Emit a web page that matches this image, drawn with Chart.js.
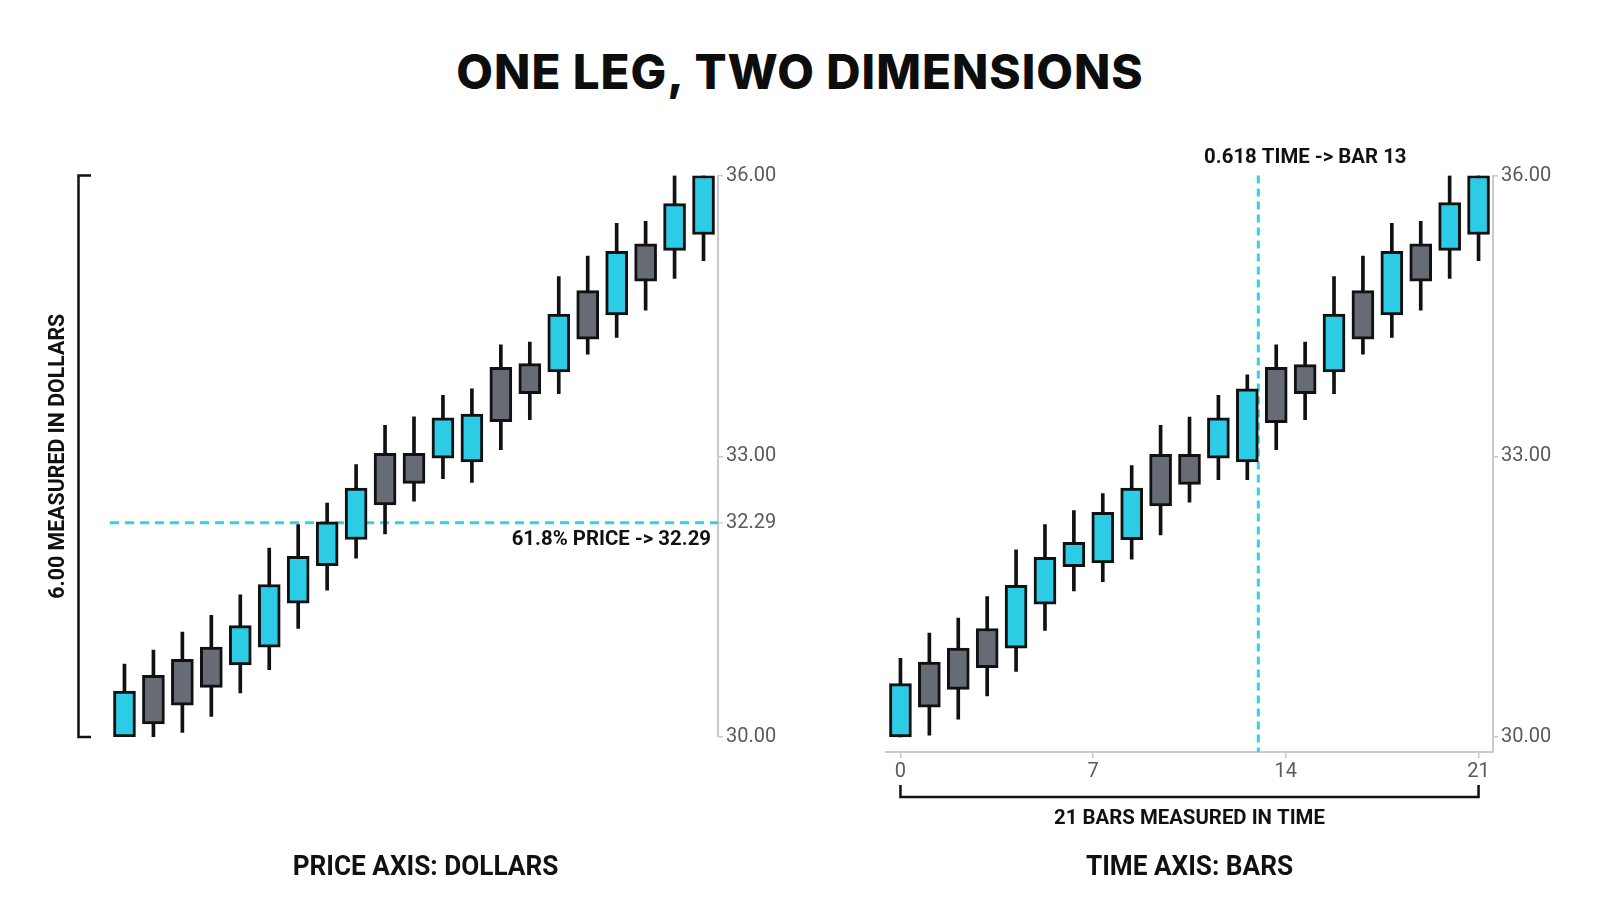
<!DOCTYPE html>
<html>
<head>
<meta charset="utf-8">
<title>One leg, two dimensions</title>
<script src="https://cdn.jsdelivr.net/npm/chart.js@4.4.0/dist/chart.umd.min.js"></script>
<style>
  body { margin: 0; background: #fff; width: 1600px; height: 914px; position: relative; overflow: hidden; }
  #title { position: absolute; left: 0; top: 48px; width: 1600px; margin: 0; text-align: center;
           font: 800 47.5px/47px Inter, "Open Sans", sans-serif; letter-spacing: 1px; color: #0d0d0d; }
  canvas { position: absolute; top: 0; }
  #price { left: 0; }
  #time { left: 800px; }
</style>
</head>
<body>
<div id="title">ONE LEG, TWO DIMENSIONS</div>
<canvas id="price" width="800" height="914"></canvas>
<canvas id="time" width="800" height="914"></canvas>
<script>
// tick labels
const priceTicks = [30, 32.29, 33, 36];
const timeTicks = [0, 7, 14, 21];
const priceLevel = 32.29;   // 61.8% price
const timeLevel = 13;       // 0.618 time

// left panel candles
const leftOpen  = [30.00, 30.66, 30.83, 30.96, 30.77, 30.96, 31.43, 31.83, 32.11, 33.03, 33.03, 32.98, 32.94, 33.95, 33.99, 33.90, 34.77, 34.51, 35.27, 35.20, 35.37];
const leftHigh  = [30.78, 30.93, 31.12, 31.30, 31.52, 32.02, 32.27, 32.50, 32.91, 33.33, 33.42, 33.65, 33.72, 34.19, 34.22, 34.92, 35.14, 35.49, 35.51, 36.00, 36.00];
const leftLow   = [30.00, 30.00, 30.05, 30.22, 30.47, 30.72, 31.16, 31.57, 31.91, 32.17, 32.52, 32.76, 32.72, 33.07, 33.39, 33.67, 34.09, 34.27, 34.56, 34.90, 35.09];
const leftClose = [30.49, 30.14, 30.34, 30.53, 31.19, 31.63, 31.93, 32.30, 32.66, 32.48, 32.71, 33.41, 33.45, 33.37, 33.67, 34.52, 34.25, 35.19, 34.87, 35.70, 36.00];

// right panel candles
const rightOpen  = [30.00, 30.80, 30.95, 31.16, 30.95, 31.42, 31.82, 31.86, 32.11, 33.02, 33.02, 32.98, 32.94, 33.95, 33.98, 33.90, 34.77, 34.51, 35.27, 35.20, 35.37];
const rightHigh  = [30.84, 31.11, 31.27, 31.50, 32.00, 32.27, 32.42, 32.60, 32.90, 33.33, 33.42, 33.65, 33.87, 34.19, 34.22, 34.92, 35.14, 35.49, 35.51, 36.00, 36.00];
const rightLow   = [30.00, 30.02, 30.19, 30.44, 30.70, 31.14, 31.56, 31.66, 31.90, 32.16, 32.51, 32.75, 32.75, 33.07, 33.39, 33.67, 34.09, 34.27, 34.56, 34.90, 35.09];
const rightClose = [30.57, 30.32, 30.51, 30.74, 31.62, 31.92, 32.08, 32.40, 32.66, 32.47, 32.70, 33.41, 33.72, 33.36, 33.67, 34.52, 34.25, 35.19, 34.87, 35.71, 36.00];

const CYAN = '#2ccbe6';
const GREY = '#676b75';
const INK = '#111111';
const AXIS = '#cacaca';
const TICK = '#5a5a5a';
const DASH = '#30d3e4';
const SQUEEZE = 0.97;

function candles(open, high, low, close) {
  return {
    labels: open.map((_, i) => i),
    datasets: [
      {
        label: 'body',
        data: open.map((o, i) => [o, close[i]]),
        backgroundColor: open.map((o, i) => close[i] >= o ? CYAN : GREY),
        borderColor: INK,
        borderWidth: 3,
        borderSkipped: false,
        barThickness: 22,
        grouped: false,
        order: 0
      },
      {
        label: 'wick',
        data: low.map((l, i) => [l, high[i]]),
        backgroundColor: INK,
        borderWidth: 0,
        barThickness: 3,
        grouped: false,
        order: 1
      }
    ]
  };
}

function label(ctx, text, x, y, size, align, angle) {
  ctx.save();
  ctx.translate(x, y);
  if (angle) ctx.rotate(angle);
  ctx.scale(SQUEEZE, 1);
  ctx.font = '700 ' + size + 'px Roboto';
  ctx.fillStyle = INK;
  ctx.textAlign = align || 'center';
  ctx.textBaseline = 'alphabetic';
  ctx.fillText(text, 0, 0);
  ctx.restore();
}

function priceAxis(width, min, ticks) {
  return {
    position: 'right',
    min: min,
    max: 36,
    afterBuildTicks: s => { s.ticks = ticks.map(v => ({ value: v })); },
    afterFit: s => { s.width = width; },
    border: { display: true, color: AXIS, width: 2 },
    grid: { drawOnChartArea: false, drawTicks: true, tickLength: 5, color: AXIS, lineWidth: 1.5 },
    ticks: { color: TICK, padding: 3, font: { family: 'Roboto', size: 20 }, callback: v => Number(v).toFixed(2) }
  };
}

const common = {
  responsive: false,
  animation: false,
  plugins: { legend: { display: false }, tooltip: { enabled: false } }
};

// left: price dimension
new Chart(document.getElementById('price'), {
  type: 'bar',
  data: candles(leftOpen, leftHigh, leftLow, leftClose),
  options: Object.assign({}, common, {
    layout: { padding: { left: 110, right: 0, top: 175.5, bottom: 177 } },
    scales: {
      x: { display: false, offset: true },
      y: priceAxis(82, 30, priceTicks)
    }
  }),
  plugins: [{
    id: 'priceDecor',
    beforeDatasetsDraw(chart) {
      const { ctx, chartArea: a, scales: { y } } = chart;
      const py = y.getPixelForValue(priceLevel);
      ctx.save();
      ctx.strokeStyle = DASH;
      ctx.lineWidth = 3;
      ctx.setLineDash([9, 6]);
      ctx.beginPath();
      ctx.moveTo(a.left, py);
      ctx.lineTo(a.right, py);
      ctx.stroke();
      ctx.restore();
    },
    afterDraw(chart) {
      const { ctx, chartArea: a, scales: { y } } = chart;
      const top = y.getPixelForValue(36), bot = y.getPixelForValue(30);
      const bx = 78.5;
      ctx.save();
      ctx.strokeStyle = INK;
      ctx.lineWidth = 2.5;
      ctx.beginPath();
      ctx.moveTo(bx + 12.5, top);
      ctx.lineTo(bx, top);
      ctx.lineTo(bx, bot);
      ctx.lineTo(bx + 12.5, bot);
      ctx.stroke();
      ctx.restore();
      label(ctx, '6.00 MEASURED IN DOLLARS', 63.5, (top + bot) / 2, 22, 'center', -Math.PI / 2);
      label(ctx, '61.8% PRICE -> ' + priceLevel.toFixed(2), a.right - 7, y.getPixelForValue(priceLevel) + 22, 21, 'right');
      label(ctx, 'PRICE AXIS: DOLLARS', 425.5, 875, 27, 'center');
    }
  }]
});

// right: time dimension
const nBars = rightOpen.length;
const lastTick = timeTicks[timeTicks.length - 1];
const edge = 0.5 * lastTick / (nBars - 1);

new Chart(document.getElementById('time'), {
  type: 'bar',
  data: candles(rightOpen, rightHigh, rightLow, rightClose),
  options: Object.assign({}, common, {
    layout: { padding: { left: 86, right: 0, top: 175.5, bottom: 122 } },
    scales: {
      x: { display: false, offset: true },
      xt: {
        type: 'linear',
        axis: 'x',
        position: 'bottom',
        offset: false,
        min: -edge,
        max: lastTick + edge,
        afterBuildTicks: s => { s.ticks = timeTicks.map(v => ({ value: v })); },
        afterFit: s => { s.height = 40; },
        border: { display: true, color: AXIS, width: 2 },
        grid: { offset: false, drawOnChartArea: false, drawTicks: true, tickLength: 6, color: AXIS, lineWidth: 1.5 },
        ticks: { color: TICK, padding: 2, font: { family: 'Roboto', size: 20 }, maxRotation: 0, autoSkip: false }
      },
      y: priceAxis(107, 29.84, [30, 33, 36])
    }
  }),
  plugins: [{
    id: 'timeDecor',
    beforeDatasetsDraw(chart) {
      const { ctx, chartArea: a, scales: { xt } } = chart;
      const px = xt.getPixelForValue(timeLevel);
      ctx.save();
      ctx.strokeStyle = DASH;
      ctx.lineWidth = 3;
      ctx.setLineDash([8, 5]);
      ctx.beginPath();
      ctx.moveTo(px, a.top);
      ctx.lineTo(px, a.bottom);
      ctx.stroke();
      ctx.restore();
    },
    afterDraw(chart) {
      const { ctx, scales: { xt } } = chart;
      const x0 = xt.getPixelForValue(timeTicks[0]);
      const x1 = xt.getPixelForValue(lastTick);
      const by = 797;
      ctx.save();
      ctx.strokeStyle = INK;
      ctx.lineWidth = 2.5;
      ctx.beginPath();
      ctx.moveTo(x0, by - 12);
      ctx.lineTo(x0, by);
      ctx.lineTo(x1, by);
      ctx.lineTo(x1, by - 12);
      ctx.stroke();
      ctx.restore();
      label(ctx, lastTick + ' BARS MEASURED IN TIME', (x0 + x1) / 2, 823.5, 21, 'center');
      label(ctx, '0.618 TIME -> BAR ' + timeLevel, xt.getPixelForValue(timeLevel) + 47, 162.5, 21, 'center');
      label(ctx, 'TIME AXIS: BARS', 389.5, 875, 27, 'center');
    }
  }]
});
</script>
</body>
</html>
